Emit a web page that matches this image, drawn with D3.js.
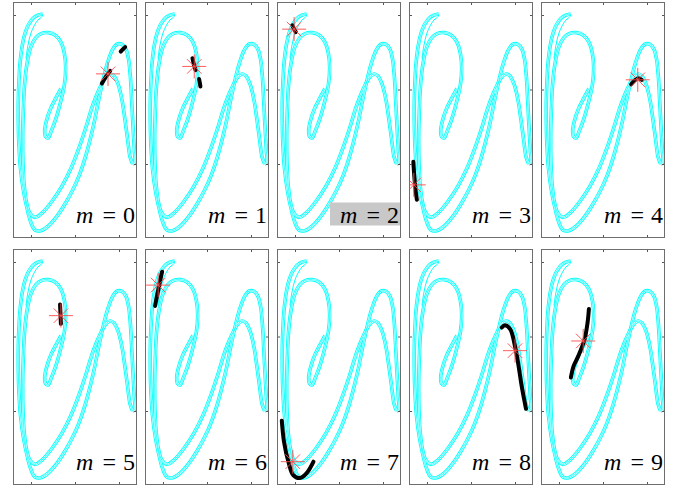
<!DOCTYPE html>
<html>
<head>
<meta charset="utf-8">
<script src="https://cdn.jsdelivr.net/npm/d3@7"></script>
<style>
body { margin: 0; background: #fff; }
</style>
</head>
<body>
<div id="vis"></div>
<script>
// panel labels m = 0..9
const panelM = [0, 1, 2, 3, 4, 5, 6, 7, 8, 9];
const highlighted = 2;

const xTicks = [-1, 0, 1];
const yTicks = [1, 0, -1];
const xLim = [-1.409, 1.409];
const yLim = [-1.993, 1.1745];

// attractor strands (same in every panel)
const outerLoop = [
    [-0.735, 1.013], [-0.856, 0.996], [-0.962, 0.951], [-1.061, 0.866], [-1.136, 0.754],
    [-1.197, 0.597], [-1.242, 0.396], [-1.273, 0.128], [-1.288, -0.141], [-1.288, -0.454],
    [-1.273, -0.767], [-1.235, -1.081], [-1.174, -1.349], [-1.098, -1.573], [-1.008, -1.774],
    [-0.909, -1.886], [-0.780, -1.895], [-0.606, -1.832], [-0.417, -1.707], [-0.227, -1.537],
    [-0.053, -1.349], [0.098, -1.148], [0.227, -0.924], [0.341, -0.678], [0.439, -0.432],
    [0.530, -0.163], [0.629, 0.105], [0.735, 0.351], [0.856, 0.539], [0.962, 0.611],
    [1.068, 0.606], [1.159, 0.539], [1.220, 0.396], [1.258, 0.172], [1.288, -0.141],
    [1.318, -0.499], [1.348, -0.812], [1.356, -0.982], [1.311, -1.000]
];

const innerLoop = [
    [1.311, -1.000], [1.250, -0.902], [1.197, -0.678], [1.136, -0.409], [1.068, -0.141],
    [0.977, 0.074], [0.886, 0.181], [0.795, 0.208], [0.705, 0.172], [0.606, 0.074],
    [0.492, -0.074], [0.379, -0.253], [0.265, -0.477], [0.114, -0.745], [-0.076, -1.036],
    [-0.303, -1.304], [-0.530, -1.506], [-0.758, -1.662], [-0.909, -1.716], [-1.023, -1.662],
    [-1.098, -1.528], [-1.152, -1.304], [-1.182, -0.991], [-1.189, -0.633], [-1.174, -0.275],
    [-1.144, 0.083], [-1.083, 0.374], [-1.000, 0.575], [-0.886, 0.700], [-0.758, 0.754],
    [-0.606, 0.763], [-0.455, 0.732], [-0.326, 0.642], [-0.242, 0.485], [-0.212, 0.284],
    [-0.242, 0.060], [-0.326, -0.163], [-0.432, -0.387], [-0.545, -0.566], [-0.606, -0.647],
    [-0.667, -0.633], [-0.689, -0.553], [-0.644, -0.409], [-0.553, -0.253], [-0.439, -0.119],
    [-0.318, 0.016]
];

const hookStrand = [
    [-0.735, 1.013], [-0.750, 0.978], [-0.841, 0.933], [-0.932, 0.852], [-1.008, 0.745],
    [-1.068, 0.597], [-1.114, 0.418]
];

// black trajectory pieces for each panel
const blackTracks = [
    [[[0.61, 0.08], [0.70, 0.17], [0.80, 0.25]], [[1.04, 0.51], [1.09, 0.54], [1.14, 0.57]]],
    [[[-0.33, 0.42], [-0.30, 0.34], [-0.26, 0.26]], [[-0.18, 0.14], [-0.16, 0.08], [-0.15, 0.04]]],
    [[[-1.06, 0.86], [-1.02, 0.81], [-0.98, 0.77]]],
    [[[-1.31, -0.97], [-1.29, -1.15], [-1.26, -1.35], [-1.23, -1.48]]],
    [[[0.64, 0.07], [0.72, 0.12], [0.80, 0.15], [0.88, 0.13]]],
    [[[-0.34, 0.43], [-0.33, 0.30], [-0.32, 0.17]]],
    [[[-1.18, 0.41], [-1.10, 0.65], [-1.02, 0.87]]],
    [[[-1.30, -1.13], [-1.25, -1.41], [-1.15, -1.68], [-1.04, -1.86], [-0.89, -1.90], [-0.73, -1.83], [-0.58, -1.68]]],
    [[[0.70, 0.12], [0.77, 0.15], [0.89, 0.10], [1.00, -0.13], [1.08, -0.39], [1.15, -0.66], [1.25, -0.97]]],
    [[[-0.32, 0.37], [-0.35, 0.19], [-0.42, -0.04], [-0.56, -0.26], [-0.67, -0.40], [-0.73, -0.55]]]
];

const starPoints = [
    [0.75, 0.21], [-0.29, 0.31], [-1.02, 0.81], [-1.30, -1.28], [0.79, 0.13],
    [-0.32, 0.28], [-1.11, 0.69], [-1.05, -1.68], [1.00, -0.19], [-0.45, -0.06]
];

const width = 676;
const height = 491;
const pw = 124, ph = 236;
const colX = [13, 145, 277, 409, 541];
const rowY = [2, 249];

const svg = d3.select('#vis')
    .append('svg')
    .attr('width', width)
    .attr('height', height);

const x = d3.scaleLinear().domain(xLim).range([0, pw]);
const y = d3.scaleLinear().domain(yLim).range([ph, 0]);

const line = d3.line()
    .x(d => x(d[0]))
    .y(d => y(d[1]))
    .curve(d3.curveCatmullRom.alpha(0.5));

svg.append('defs').append('clipPath')
    .attr('id', 'panel-clip')
    .append('rect')
    .attr('width', pw)
    .attr('height', ph);

panelM.forEach((m, i) => {
    const g = svg.append('g')
        .attr('transform', `translate(${colX[i % 5]},${rowY[Math.floor(i / 5)]})`);

    const plot = g.append('g').attr('clip-path', 'url(#panel-clip)');

    // ribbon: wide cyan, white gap, thin cyan centre -> several strands
    const loops = [outerLoop, innerLoop];
    loops.forEach(l => plot.append('path').attr('d', line(l))
        .attr('fill', 'none').attr('stroke', '#00ffff').attr('stroke-width', 3.6));
    loops.forEach(l => plot.append('path').attr('d', line(l))
        .attr('fill', 'none').attr('stroke', '#fff').attr('stroke-width', 1.8));
    loops.forEach(l => plot.append('path').attr('d', line(l))
        .attr('fill', 'none').attr('stroke', '#00ffff').attr('stroke-width', 0.8));
    plot.append('path').attr('d', line(hookStrand))
        .attr('fill', 'none').attr('stroke', '#00ffff').attr('stroke-width', 1);

    blackTracks[i].forEach(t => {
        plot.append('path')
            .attr('d', line(t))
            .attr('fill', 'none')
            .attr('stroke', 'black')
            .attr('stroke-width', 4)
            .attr('stroke-linecap', 'round')
            .attr('stroke-linejoin', 'round');
    });

    const s = starPoints[i];
    [d3.symbolPlus, d3.symbolTimes].forEach(sym => {
        plot.append('path')
            .attr('d', d3.symbol().type(sym).size(sym === d3.symbolPlus ? 190 : 140)())
            .attr('transform', `translate(${x(s[0])},${y(s[1])})`)
            .attr('fill', 'none')
            .attr('stroke', '#ff4a4a')
            .attr('stroke-width', 0.9);
    });

    // label box for the highlighted panel
    if (m === highlighted) {
        g.append('rect')
            .attr('x', 53)
            .attr('y', 200.5)
            .attr('width', 71)
            .attr('height', 23)
            .attr('fill', '#c8c8c8');
    }

    const label = g.append('text')
        .attr('x', pw - 2)
        .attr('y', 221)
        .attr('text-anchor', 'end')
        .attr('font-family', 'Liberation Serif')
        .attr('font-size', '24px')
        .attr('fill', 'black');
    label.append('tspan').attr('font-style', 'italic').text('m');
    label.append('tspan').attr('dx', 9).text('=');
    label.append('tspan').attr('dx', 7).text(m);

    // frame and inward ticks on all four sides
    const axes = [
        [d3.axisTop(x).tickValues(xTicks), 0, 0],
        [d3.axisBottom(x).tickValues(xTicks), 0, ph],
        [d3.axisLeft(y).tickValues(yTicks), 0, 0],
        [d3.axisRight(y).tickValues(yTicks), pw, 0]
    ];
    axes.forEach(([ax, tx, ty]) => {
        const a = g.append('g')
            .attr('transform', `translate(${tx},${ty})`)
            .call(ax.tickSize(-3).tickSizeOuter(0).tickFormat(''));
        a.select('.domain').remove();
        a.selectAll('line').attr('stroke', '#555');
    });

    g.append('rect')
        .attr('x', 0.5)
        .attr('y', 0.5)
        .attr('width', pw - 1)
        .attr('height', ph - 1)
        .attr('fill', 'none')
        .attr('stroke', '#6e6e6e')
        .attr('stroke-width', 1);
});
</script>
</body>
</html>
